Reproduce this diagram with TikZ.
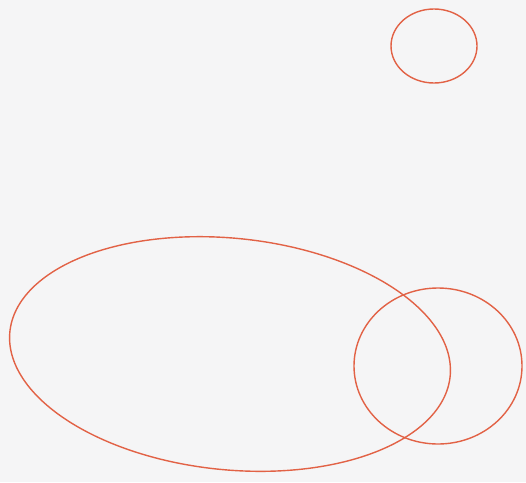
\documentclass[tikz,border=0pt]{standalone}
\definecolor{bg}{RGB}{245,245,246}
\definecolor{pencil}{RGB}{226,98,70}
\tikzset{sketch/.style={draw=pencil,line width=1.4pt,line join=round}}
\begin{document}
\begin{tikzpicture}[x=1pt,y=-1pt]
\fill[bg] (0,0) rectangle (526,482);
\useasboundingbox (0,0) rectangle (526,482);
% small circle top right
\draw[sketch] (434,46) ellipse [x radius=43, y radius=37];
% large ellipse (slightly slanted)
\draw[sketch] plot[domain=0:360,samples=120,smooth cycle,variable=\t]
 ({230+220*cos(\t)+0.12*117*sin(\t)},{354+117*sin(\t)+0.04*220*cos(\t)});
% medium circle
\draw[sketch] (438,366) ellipse [x radius=84, y radius=78];
\end{tikzpicture}
\end{document}
